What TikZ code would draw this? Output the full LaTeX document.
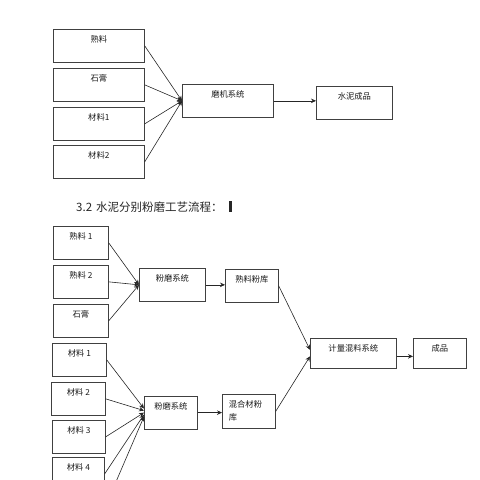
\documentclass[tikz,border=0pt]{standalone}
\usepackage{fontspec}
\setmainfont{Noto Sans CJK SC}
\usepackage{tikz}
\usetikzlibrary{arrows.meta}
\tikzset{
  box/.style={
    rectangle, draw=black!75, line width=0.7pt, anchor=north west,
    minimum height=33pt, inner ysep=0pt, text height=13.5pt, text depth=19.5pt,
    text=black!90, font=\fontsize{8.3}{12.3}\selectfont
  },
  arrow/.style={
    -{Stealth[length=5pt,width=4.5pt]}, line width=0.6pt, color=black!85
  }
}

\begin{document}
\begin{tikzpicture}[x=1pt, y=-1pt,
    lowbox/.style = {minimum height=30pt, text depth=16.5pt},
    headline/.style = {font=\fontsize{11.5}{14}\selectfont, text=black!85, anchor=west, inner sep=0pt}
]
\useasboundingbox (0,0) rectangle (480,480);
\clip (0,0) rectangle (480,480);

% Mixed grinding
\node[box, minimum width=91pt] (clk) at (53,29) {熟料};
\node[box, minimum width=91pt] (gyp) at (53,68) {石膏};
\node[box, minimum width=91pt] (mata) at (53,107) {材料1};
\node[box, minimum width=91pt] (matb) at (53,145) {材料2};
\node[box, minimum width=91pt] (mill) at (182,84) {磨机系统};
\node[box, minimum width=76pt] (cement) at (316,85.5) {水泥成品};

\draw[arrow] (clk.east) -- (mill.west);
\draw[arrow] (gyp.east) -- (mill.west);
\draw[arrow] (mata.east) -- (mill.west);
\draw[arrow] (matb.east) -- (mill.west);
\draw[arrow] (mill.east) -- (mill.east -| cement.west);

% Heading
\node[headline] (title) at (76,207) {3.2\hspace{4pt}水泥分别粉磨工艺流程：};
\fill[black!85] (228.5,200.5) rectangle (231.5,212);

% Clinker path
\node[box, minimum width=55pt] (clka) at (53,226) {熟料 1};
\node[box, minimum width=55pt] (clkb) at (53,265) {熟料 2};
\node[box, minimum width=55pt] (gypb) at (53,304) {石膏};
\node[box, minimum width=66pt] (milla) at (139,268) {粉磨系统};
\node[box, minimum width=53pt] (clksilo) at (225,269) {熟料粉库};

\draw[arrow] (clka.east) -- (milla.west);
\draw[arrow] (clkb.east) -- (milla.west);
\draw[arrow] (gypb.east) -- (milla.west);
\draw[arrow] (milla.east) -- (milla.east -| clksilo.west);

% Admixture path
\node[box, minimum width=54pt] (mat1) at (52,343) {材料 1};
\node[box, minimum width=54pt] (mat2) at (51,382) {材料 2};
\node[box, minimum width=53pt] (mat3) at (52,420) {材料 3};
\node[box, minimum width=52pt] (mat4) at (52,457) {材料 4};
\coordinate (mat5) at (106,505);
\node[box, minimum width=53pt, minimum height=32.5pt, text depth=19pt] (millb) at (144,396) {粉磨系统};
\node[box, minimum width=53pt, minimum height=34pt, text depth=20.5pt, text width=40pt, align=left] (admsilo) at (222,394) {混合材粉\\库};

\draw[arrow] (mat1.east) -- ([yshift=4pt]millb.west);
\draw[arrow] (mat2.east) -- ([yshift=2pt]millb.west);
\draw[arrow] (mat3.east) -- (millb.west);
\draw[arrow] (mat4.east) -- ([yshift=-2pt]millb.west);
\draw[arrow] (mat5) -- ([yshift=-4pt]millb.west);
\draw[arrow] (millb.east) -- (millb.east -| admsilo.west);

% Dosing
\node[box, lowbox, minimum width=86pt] (dosing) at (310,338) {计量混料系统};
\node[box, lowbox, minimum width=53pt] (product) at (413,338) {成品};

\draw[arrow] (clksilo.east) -- ([yshift=3.5pt]dosing.west);
\draw[arrow] (admsilo.east) -- ([yshift=-3pt]dosing.west);
\draw[arrow] ([yshift=-3pt]dosing.east) -- ([yshift=-3pt]dosing.east -| product.west);

\end{tikzpicture}
\end{document}
